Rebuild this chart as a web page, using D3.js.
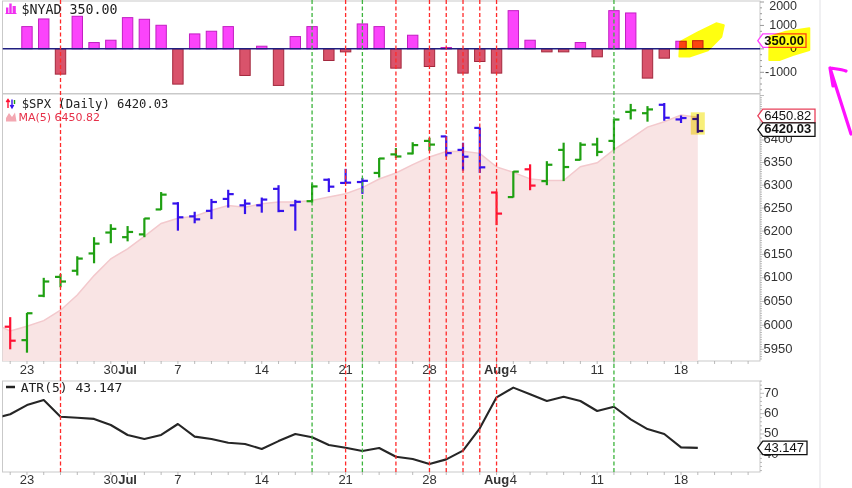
<!DOCTYPE html>
<html><head><meta charset="utf-8">
<script src="https://cdn.jsdelivr.net/npm/d3@7"></script>
<style>body{margin:0;background:#fff}svg{display:block}</style>
</head><body><svg id="c" width="852" height="488"></svg>
<script>
// ---------------- DATA ----------------
const dates = ["2025-06-20","2025-06-23","2025-06-24","2025-06-25","2025-06-26","2025-06-27","2025-06-30",
"2025-07-01","2025-07-02","2025-07-03","2025-07-07","2025-07-08","2025-07-09","2025-07-10","2025-07-11",
"2025-07-14","2025-07-15","2025-07-16","2025-07-17","2025-07-18","2025-07-21","2025-07-22","2025-07-23",
"2025-07-24","2025-07-25","2025-07-28","2025-07-29","2025-07-30","2025-07-31","2025-08-01","2025-08-04",
"2025-08-05","2025-08-06","2025-08-07","2025-08-08","2025-08-11","2025-08-12","2025-08-13","2025-08-14",
"2025-08-15","2025-08-18","2025-08-19"];
const open  = [5997,5969,6062,6102,6115,6152,6197,6187,6193,6247,6260,6232,6244,6270,6256,6256,6292,6256,6265,6312,6305,6307,6327,6368,6370,6398,6408,6378,6427,6284,6274,6335,6309,6378,6356,6390,6398,6463,6460,6479,6446,6447];
const high  = [6017,6026,6100,6108,6146,6187,6215,6211,6228,6285,6263,6242,6270,6290,6269,6273,6300,6268,6304,6315,6336,6316,6360,6382,6395,6405,6409,6394,6428,6286,6331,6346,6353,6394,6395,6405,6447,6481,6476,6483,6455,6458];
const low   = [5950,5943,6059,6080,6105,6131,6174,6178,6187,6246,6201,6217,6226,6251,6237,6240,6241,6201,6262,6285,6303,6281,6317,6360,6368,6376,6363,6332,6327,6213,6273,6289,6300,6309,6355,6364,6377,6446,6441,6443,6438,6416];
const close = [5967.84,6025.17,6092.18,6092.16,6141.02,6173.07,6204.95,6198.24,6227.42,6279.35,6229.98,6225.52,6263.26,6280.46,6259.75,6268.56,6243.76,6263.70,6297.36,6296.79,6305.60,6309.62,6358.91,6363.35,6388.64,6389.77,6370.86,6362.90,6339.39,6238.01,6329.94,6299.19,6345.06,6340.00,6389.45,6373.45,6445.76,6466.58,6468.54,6449.80,6449.15,6420.03];
const impulse = ["red","green","green","green","green","green","green","green","green","green",
"blue","blue","blue","blue","blue","blue","blue","blue","green","blue","blue","blue",
"green","green","green","green","blue","blue","blue","red","green","red",
"green","green","green","green","green","green","green","blue","blue","blue"];
const maPrev = 6003.8;
const ma5 = [5988.3,5997.9,6009.8,6031.6,6063.7,6104.7,6140.7,6161.9,6188.9,6216.6,6228.0,6232.1,6245.1,6255.7,6251.8,6259.5,6263.2,6263.3,6266.6,6274.0,6281.4,6294.6,6313.7,6326.9,6345.2,6362.1,6374.3,6375.1,6370.3,6340.2,6328.2,6313.9,6310.3,6310.4,6340.7,6349.4,6378.7,6403.1,6428.8,6440.8,6456.0,6450.82];
const nyad = [null,950,1277,-1078,1390,270,369,1333,1262,1007,-1504,638,752,950,-1135,113,-1560,525,950,-496,-128,1064,950,-823,582,-752,57,-1035,-539,-1035,1631,369,-128,-128,270,-340,1631,1532,-1248,-397,326,350];
const atrPrev = 57.6;
const atr5 = [59.7,64.2,66.7,58.5,58.0,57.4,54.4,49.5,47.5,49.5,54.9,48.7,47.5,45.7,45.1,42.6,46.5,50.0,48.4,44.6,43.2,41.6,43.1,38.8,37.7,35.2,37.5,41.8,52.8,68.0,72.8,69.5,66.2,68.3,66.2,61.3,63.4,57.2,52.4,50.0,43.4,43.147];
const redLines = ["2025-06-25","2025-07-21","2025-07-24","2025-07-28","2025-07-29","2025-07-30","2025-07-31","2025-08-01"];
const greenLines = ["2025-07-17","2025-07-22","2025-08-12"];
const xTickLabels = [["2025-06-23","23",false],["2025-06-30","30",false],["2025-07-01","Jul",true],["2025-07-07","7",false],
["2025-07-14","14",false],["2025-07-21","21",false],["2025-07-28","28",false],["2025-08-01","Aug",true],["2025-08-04","4",false],
["2025-08-11","11",false],["2025-08-18","18",false]];
const priceTicks = [5950,6000,6050,6100,6150,6200,6250,6300,6350,6400];
const nyadTicks = [-1000,0,1000,2000];
const atrTicks = [40,50,60,70];

// ---------------- LAYOUT ----------------
const svg = d3.select("#c");
const L = 2.5, R = 760;
const PN = {t:1, b:93.5}, PP = {t:94, b:361}, PA = {t:381, b:472};
const x = d3.scaleLinear().domain([0,41]).range([10.2,697.8]);
const idx = new Map(dates.map((d,i)=>[d,i]));
const yN = d3.scaleLinear().domain([-1000,2000]).range([72.3,2.0]);
const yP = d3.scaleLog().domain([5950,6400]).range([349.3,140]);
const yA = d3.scaleLinear().domain([40,70]).range([454.3,393.3]);
const AX = "Liberation Sans, Arial, sans-serif";
const MONO = "DejaVu Sans Mono, monospace";

svg.append("rect").attr("width",852).attr("height",488).attr("fill","#fff");
svg.append("line").attr("x1",820).attr("x2",820).attr("y1",0).attr("y2",488).attr("stroke","#e6e6ea").attr("stroke-width",1.2);

const defs = svg.append("defs");
[["cN",PN],["cP",PP],["cA",PA]].forEach(([id,p])=>{
  defs.append("clipPath").attr("id",id).append("rect").attr("x",L).attr("y",p.t).attr("width",R-L).attr("height",p.b-p.t);
});
[PN,PP,PA].forEach(p=>{
  svg.append("rect").attr("x",L).attr("y",p.t).attr("width",R-L).attr("height",p.b-p.t)
    .attr("fill","#fff").attr("stroke","#c9c9c9").attr("stroke-width",1);
});

// ---------------- NYAD panel ----------------
const gN = svg.append("g").attr("clip-path","url(#cN)");
gN.selectAll("rect.nb").data(nyad.map((v,i)=>({v,i})).filter(d=>d.v!==null)).join("rect")
  .attr("x",d=>x(d.i)-5.2).attr("width",10.4)
  .attr("y",d=>yN(Math.max(0,d.v))).attr("height",d=>Math.abs(yN(d.v)-yN(0)))
  .attr("fill",d=>d.v>=0?"#fb44fb":"#d9536b").attr("stroke",d=>d.v>=0?"#c21fc2":"#a3283d").attr("stroke-width",1);
gN.append("line").attr("x1",L).attr("x2",R).attr("y1",yN(0)).attr("y2",yN(0)).attr("stroke","#1f1f80").attr("stroke-width",1.5);

d3.range(-1750,2001,250).forEach(v=>{
  svg.append("line").attr("x1",R).attr("x2",R+(v%1000===0?4:2)).attr("y1",yN(v)).attr("y2",yN(v)).attr("stroke","#999");
});
svg.selectAll("text.nt").data(nyadTicks).join("text").attr("x",797).attr("y",d=>Math.max(yN(d),7)).attr("text-anchor","end")
  .attr("dominant-baseline","middle").attr("font-family",AX).attr("font-size",12.5).attr("fill","#333").text(d=>d);

// ---------------- PRICE panel ----------------
const gP = svg.append("g").attr("clip-path","url(#cP)");
const maPts = [[-1,maPrev]].concat(ma5.map((v,i)=>[i,v]));
gP.append("path").datum(maPts).attr("d",d3.area().x(d=>x(d[0])).y0(PP.b).y1(d=>yP(d[1])))
  .attr("fill","#f9e4e4");
gP.append("path").datum(maPts).attr("d",d3.line().x(d=>x(d[0])).y(d=>yP(d[1])))
  .attr("fill","none").attr("stroke","#f3c9cd").attr("stroke-width",1.5);
const colorMap = {green:"#1fa012",red:"#ff1133",blue:"#3512ec"};
const bars = gP.selectAll("g.bar").data(dates.map((d,i)=>i)).join("g").attr("stroke",i=>colorMap[impulse[i]]).attr("stroke-width",2.2);
bars.append("line").attr("x1",i=>x(i)).attr("x2",i=>x(i)).attr("y1",i=>yP(high[i])).attr("y2",i=>yP(low[i]));
bars.append("line").attr("x1",i=>x(i)-5.5).attr("x2",i=>x(i)).attr("y1",i=>yP(open[i])).attr("y2",i=>yP(open[i]));
bars.append("line").attr("x1",i=>x(i)).attr("x2",i=>x(i)+5.5).attr("y1",i=>yP(close[i])).attr("y2",i=>yP(close[i]));
gP.append("rect").attr("x",x(41)-7).attr("width",14).attr("y",yP(6462)).attr("height",yP(6412)-yP(6462))
  .attr("fill","#f8ef7a").style("mix-blend-mode","multiply");

d3.range(5930,6505,5).forEach(v=>{
  svg.append("line").attr("x1",R).attr("x2",R+(v%50===0?4:2)).attr("y1",yP(v)).attr("y2",yP(v)).attr("stroke","#aaa").attr("stroke-width",0.8);
});
svg.selectAll("text.pt").data(priceTicks).join("text").attr("x",763.5).attr("y",d=>yP(d)).attr("dominant-baseline","middle")
  .attr("font-family",AX).attr("font-size",13).attr("fill","#333").text(d=>d);

// ---------------- ATR panel ----------------
const gA = svg.append("g").attr("clip-path","url(#cA)");
const atrPts = [[-1,atrPrev]].concat(atr5.map((v,i)=>[i,v]));
gA.append("path").datum(atrPts).attr("d",d3.line().x(d=>x(d[0])).y(d=>yA(d[1])))
  .attr("fill","none").attr("stroke","#262626").attr("stroke-width",2.1).attr("stroke-linejoin","round");
d3.range(32,77,2).forEach(v=>{
  svg.append("line").attr("x1",R).attr("x2",R+(v%10===0?4:2)).attr("y1",yA(v)).attr("y2",yA(v)).attr("stroke","#aaa").attr("stroke-width",0.8);
});
svg.selectAll("text.at").data(atrTicks).join("text").attr("x",764).attr("y",d=>yA(d)).attr("dominant-baseline","middle")
  .attr("font-family",AX).attr("font-size",13).attr("fill","#333").text(d=>d);

// ---------------- X axes ----------------
d3.range(0,45).forEach(i=>{
  [PP.b,PA.b].forEach(yb=>{
    svg.append("line").attr("x1",x(i)).attr("x2",x(i)).attr("y1",yb).attr("y2",yb+3).attr("stroke","#aaa").attr("stroke-width",0.8);
  });
});
[370.5,481].forEach(yy=>{
  svg.selectAll(null).data(xTickLabels).join("text").attr("x",d=>x(idx.get(d[0]))).attr("y",yy)
    .attr("text-anchor","middle").attr("dominant-baseline","middle").attr("font-family",AX).attr("font-size",13)
    .attr("font-weight",d=>d[2]?"bold":"normal").attr("fill","#333").text(d=>d[1]);
});

// ---------------- vertical signal lines ----------------
const vl = svg.append("g");
redLines.forEach(d=>vl.append("line").attr("x1",x(idx.get(d))).attr("x2",x(idx.get(d))).attr("y1",0).attr("y2",PA.b)
  .attr("stroke","#ff2a2a").attr("stroke-width",1.3).attr("stroke-dasharray","4,2.5"));
greenLines.forEach(d=>vl.append("line").attr("x1",x(idx.get(d))).attr("x2",x(idx.get(d))).attr("y1",0).attr("y2",PA.b)
  .attr("stroke","#3cb43c").attr("stroke-width",1.3).attr("stroke-dasharray","4,2.5"));

// ---------------- value label boxes ----------------
function valueBox(yc, text, stroke, bold, right){
  const tip = 757.8, h = 13.5, bx = tip+5;
  svg.append("path").attr("d",`M${tip},${yc} L${bx},${yc-h/2} L${right},${yc-h/2} L${right},${yc+h/2} L${bx},${yc+h/2} Z`)
    .attr("fill","#fff").attr("stroke",stroke).attr("stroke-width",1.3);
  svg.append("text").attr("x",bx+1.5).attr("y",yc+0.5).attr("dominant-baseline","middle").attr("font-family",AX)
    .attr("font-size",13).attr("font-weight",bold?"bold":"normal").attr("fill","#111").text(text);
}
valueBox(yP(ma5[41])-1.5, "6450.82", "#e8405a", false, 815);
valueBox(yP(close[41])-1.5, "6420.03", "#111", true, 815);
valueBox(yN(nyad[41]), "350.00", "#ff40ff", true, 806);
valueBox(yA(atr5[41]), "43.147", "#111", false, 807);

// ---------------- legends ----------------
[[6,7.5,2.4,6],[9.3,3.5,2.4,10],[12.6,6,3.2,7.5]].forEach(r=>svg.append("rect").attr("x",r[0]).attr("y",r[1]).attr("width",r[2]).attr("height",r[3]).attr("fill","#f030f0"));
svg.append("line").attr("x1",5.5).attr("x2",16.5).attr("y1",13.5).attr("y2",13.5).attr("stroke","#f030f0").attr("stroke-width",1);
svg.append("text").attr("x",21.5).attr("y",13.8).attr("font-family",MONO).attr("font-size",13.3).attr("fill","#222").text("$NYAD 350.00");
svg.append("path").attr("d","M8,108 L8,100 M6.3,102 L8,99.5 L9.7,102").attr("stroke","#ff1133").attr("fill","none").attr("stroke-width",1.4);
svg.append("path").attr("d","M12,99.5 L12,107.5 M10.3,105 L12,107.8 L13.7,105").attr("stroke","#3512ec").attr("fill","none").attr("stroke-width",1.4);
svg.append("path").attr("d","M14.5,100 L14.5,104").attr("stroke","#1fa012").attr("fill","none").attr("stroke-width",1.4);
svg.append("text").attr("x",21.7).attr("y",107.6).attr("font-family",MONO).attr("font-size",12.2).attr("fill","#222").text("$SPX (Daily) 6420.03");
svg.append("path").attr("d","M6,121.5 L6,118 L9,113 L12,117 L15,112.5 L16.5,121.5 Z").attr("fill","#f3a8b2");
svg.append("text").attr("x",18.5).attr("y",120.8).attr("font-family","DejaVu Sans, sans-serif").attr("font-size",11).attr("fill","#e63049").text("MA(5) 6450.82");
svg.append("line").attr("x1",6).attr("x2",15).attr("y1",387).attr("y2",387).attr("stroke","#222").attr("stroke-width",2.5);
svg.append("text").attr("x",20.7).attr("y",391.8).attr("font-family",MONO).attr("font-size",13).attr("fill","#222").text("ATR(5) 43.147");

// ---------------- highlighter annotations ----------------
const hlPlot = [[39.9,-330],[39.95,300],[41.0,700],[42.1,1090],[42.55,1010],[42.4,520],[41.6,-60],[40.5,-330]];
svg.append("path").attr("d",d3.line().curve(d3.curveLinearClosed).x(d=>x(d[0])).y(d=>yN(d[1]))(hlPlot))
  .attr("fill","#ffff10").attr("stroke","#ffff10").attr("stroke-width",2).attr("stroke-linejoin","round").style("mix-blend-mode","multiply");
const hlLabel = [[9.3,-480],[9.5,520],[26,735],[49.3,880],[49.3,-50],[32.7,-265],[19.3,-480]];
svg.append("path").attr("d",d3.line().curve(d3.curveLinearClosed).x(d=>R+d[0]).y(d=>yN(d[1]))(hlLabel))
  .attr("fill","#ffff10").attr("stroke","#ffff10").attr("stroke-width",2).attr("stroke-linejoin","round").style("mix-blend-mode","multiply");

svg.append("path").attr("d","M851,134 C846,118 840,100 830,68 M830,68 C836,69 841,69 846,71 M830,68 C831,74 832,80 833,86")
  .attr("fill","none").attr("stroke","#ff10ff").attr("stroke-width",3.2).attr("stroke-linecap","round");
</script></body></html>
